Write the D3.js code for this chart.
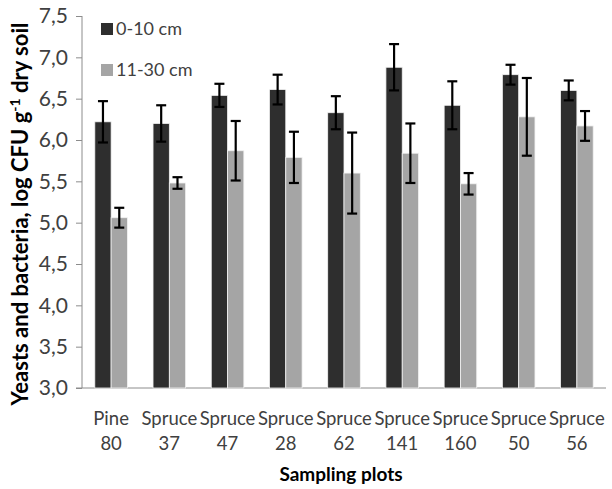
<!DOCTYPE html>
<html lang="en">
<head>
<meta charset="utf-8"/>
<title>Yeasts and bacteria</title>
<script src="https://d3js.org/d3.v7.min.js"></script>
<style>
  body { margin: 0; background: #fff; }
  svg text { font-family: Lato, "Open Sans", sans-serif; fill: #404040; }
  .axis .domain, .axis line { stroke: #8c8c8c; }
</style>
</head>
<body>
<div id="chart"></div>
<script>
// sampling plots, two lines per label
var plots = ["Pine 80", "Spruce 37", "Spruce 47", "Spruce 28", "Spruce 62",
             "Spruce 141", "Spruce 160", "Spruce 50", "Spruce 56"];
var series = ["0-10 cm", "11-30 cm"];
var top10 = [6.22, 6.20, 6.54, 6.61, 6.33, 6.88, 6.42, 6.79, 6.60];
var err10 = [0.25, 0.22, 0.14, 0.18, 0.20, 0.28, 0.29, 0.12, 0.12];
var deep30 = [5.06, 5.48, 5.87, 5.79, 5.60, 5.84, 5.47, 6.28, 6.17];
var err30 = [0.12, 0.07, 0.36, 0.31, 0.49, 0.36, 0.13, 0.47, 0.18];
var yTicks = [3.0, 3.5, 4.0, 4.5, 5.0, 5.5, 6.0, 6.5, 7.0, 7.5];

var width = 612, height = 489;
var m = {top: 16, right: 6, bottom: 101, left: 82};
var w = width - m.left - m.right, h = height - m.top - m.bottom;

var svg = d3.select("#chart").append("svg")
  .attr("width", width).attr("height", height);
var g = svg.append("g").attr("transform", "translate(" + m.left + "," + m.top + ")");

var x = d3.scaleBand().domain(plots).range([0, w]).paddingInner(0.44).paddingOuter(0.22);
var x1 = d3.scaleBand().domain(series).range([0, x.bandwidth()]);
var y = d3.scaleLinear().domain([3, 7.5]).range([h, 0]);
var color = d3.scaleOrdinal().domain(series).range(["#2e2e2e", "#a5a5a5"]);
var fmt = function(d) { return d3.format(".1f")(d).replace(".", ","); };

// y axis
var ya = g.append("g").attr("class", "axis")
  .call(d3.axisLeft(y).tickValues(yTicks).tickSize(6).tickPadding(8).tickFormat(fmt));
ya.selectAll("text").style("font-size", "21px").attr("fill", "#404040");
ya.select(".domain").attr("d", "M0," + h + "V0");

// x axis line
g.append("line").attr("x1", -6).attr("x2", w).attr("y1", h).attr("y2", h)
  .attr("stroke", "#8c8c8c");

var rows = plots.map(function(p, i) {
  return [{key: series[0], plot: p, v: top10[i], e: err10[i]},
          {key: series[1], plot: p, v: deep30[i], e: err30[i]}];
});

var grp = g.selectAll(".grp").data(rows).enter().append("g")
  .attr("transform", function(d, i) { return "translate(" + x(plots[i]) + ",0)"; });

grp.selectAll("rect").data(function(d) { return d; }).enter().append("rect")
  .attr("x", function(d) { return x1(d.key); })
  .attr("width", x1.bandwidth())
  .attr("y", function(d) { return y(d.v); })
  .attr("height", function(d) { return h - y(d.v); })
  .attr("fill", function(d) { return color(d.key); })
  .attr("stroke", "#f2f2f2").attr("stroke-width", 0.8);

// error bars
var eb = grp.selectAll(".eb").data(function(d) { return d; }).enter().append("g")
  .attr("stroke", "#000").attr("stroke-width", 2.2);
var cx = function(d) { return x1(d.key) + x1.bandwidth() / 2; };
eb.append("line")
  .attr("x1", cx).attr("x2", cx)
  .attr("y1", function(d) { return y(d.v + d.e); })
  .attr("y2", function(d) { return y(d.v - d.e); });
[1, -1].forEach(function(s) {
  eb.append("line")
    .attr("x1", function(d) { return cx(d) - 5; })
    .attr("x2", function(d) { return cx(d) + 5; })
    .attr("y1", function(d) { return y(d.v + s * d.e); })
    .attr("y2", function(d) { return y(d.v + s * d.e); });
});

// category labels
var lab = g.selectAll(".lab").data(plots).enter().append("text")
  .attr("x", function(d) { return x(d) + x.bandwidth() / 2; })
  .attr("y", h + 37)
  .attr("text-anchor", "middle")
  .style("font-size", "18.5px");
lab.append("tspan").attr("x", function(d) { return x(d) + x.bandwidth() / 2; })
  .text(function(d) { return d.split(" ")[0]; });
lab.append("tspan").attr("x", function(d) { return x(d) + x.bandwidth() / 2; })
  .attr("dy", 25).text(function(d) { return d.split(" ")[1]; });

// axis titles
svg.append("text").attr("x", m.left + w / 2 - 3).attr("y", 481)
  .attr("text-anchor", "middle").style("font-size", "19px").style("font-weight", "bold")
  .style("fill", "#000")
  .text("Sampling plots");

var yt = svg.append("text").attr("transform", "translate(28,214) rotate(-90)")
  .attr("text-anchor", "middle").style("font-size", "22px").style("font-weight", "bold")
  .style("fill", "#000");
yt.append("tspan").text("Yeasts and bacteria, log CFU g");
yt.append("tspan").attr("dy", -8).style("font-size", "14px").text("-1");
yt.append("tspan").attr("dy", 8).text(" dry soil");

// legend
var leg = g.selectAll(".leg").data(series).enter().append("g")
  .attr("transform", function(d, i) { return "translate(19," + (7 + i * 41) + ")"; });
leg.append("rect").attr("width", 12).attr("height", 12).attr("fill", color);
leg.append("text").attr("x", 15).attr("y", 12).style("font-size", "18px")
  .text(function(d) { return d; });
</script>
</body>
</html>
